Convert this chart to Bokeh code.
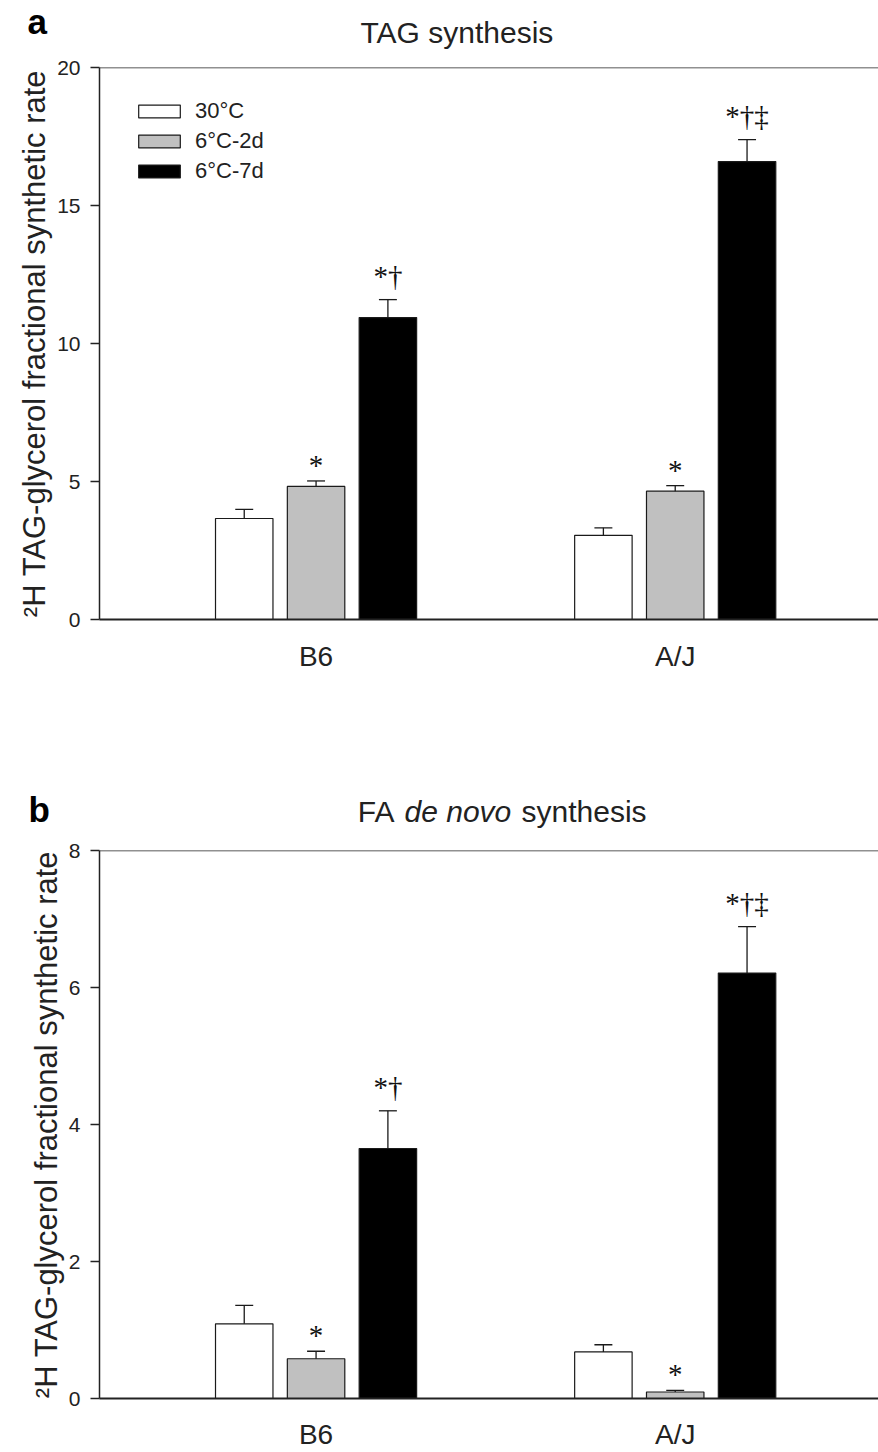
from bokeh.plotting import figure
from bokeh.layouts import column
from bokeh.models import (Range1d, FixedTicker, Span, LabelSet, Legend,
                          LegendItem, ColumnDataSource)
from bokeh.core.properties import value
from bokeh.embed import file_html
from bokeh.resources import INLINE

# ---------------- data ----------------
strains = ["B6", "A/J"]
conditions = ["30°C", "6°C-2d", "6°C-7d"]
colors = ["#ffffff", "#c0c0c0", "#000000"]

tag_means = {"30°C": [3.66, 3.05], "6°C-2d": [4.82, 4.65], "6°C-7d": [10.94, 16.59]}
tag_err = {"30°C": [0.33, 0.27], "6°C-2d": [0.20, 0.20], "6°C-7d": [0.65, 0.80]}
tag_marks = {"30°C": ["", ""], "6°C-2d": ["*", "*"], "6°C-7d": ["*†", "*†‡"]}

fa_means = {"30°C": [1.09, 0.68], "6°C-2d": [0.58, 0.095], "6°C-7d": [3.65, 6.21]}
fa_err = {"30°C": [0.27, 0.105], "6°C-2d": [0.11, 0.025], "6°C-7d": [0.55, 0.68]}
fa_marks = {"30°C": ["", ""], "6°C-2d": ["*", "*"], "6°C-7d": ["*†", "*†‡"]}

tag_ticks = [0, 5, 10, 15, 20]
fa_ticks = [0, 2, 4, 6, 8]

title_a = "TAG synthesis"
title_b = ["FA", "de novo", "synthesis"]
title_b_styles = ["normal", "italic", "normal"]

FONT = "Liberation Sans"
offsets = [-0.2, 0.0, 0.2]
BAR_W = 0.16
CAP = 0.025
X0, X1 = 0.397, 2.566
W = 878


def header(height):
    h = figure(width=W, height=height, x_range=Range1d(0, W),
               y_range=Range1d(0, height), output_backend="svg",
               toolbar_location=None, x_axis_location=None,
               y_axis_location=None, min_border=0)
    try:
        h.frame_align = False
    except Exception:
        pass
    h.grid.visible = False
    h.outline_line_color = None
    return h


def make_panel(means, errs, marks, ticks, ymax, height, top, bottom,
               label_standoff, legend=False):
    p = figure(width=W, height=height, x_range=Range1d(X0, X1),
               y_range=Range1d(0, ymax), output_backend="svg",
               toolbar_location=None, min_border_left=99, min_border_right=0,
               min_border_top=top, min_border_bottom=bottom)
    p.grid.visible = False
    p.outline_line_color = None
    p.background_fill_color = "white"

    items = []
    for ci, cond in enumerate(conditions):
        xs = [i + 1 + offsets[ci] for i in range(len(strains))]
        tops = [m + e for m, e in zip(means[cond], errs[cond])]
        yoff = [16 if len(m) <= 1 else 24 for m in marks[cond]]
        src = ColumnDataSource(dict(x=xs, top=means[cond], up=tops,
                                    xl=[x - CAP for x in xs],
                                    xr=[x + CAP for x in xs],
                                    mark=marks[cond], yoff=yoff))
        r = p.vbar(x="x", top="top", bottom=0, width=BAR_W, source=src,
                   fill_color=colors[ci], line_color="#1a1a1a", line_width=1.2)
        p.segment(x0="x", y0="top", x1="x", y1="up", source=src,
                  line_color="#1a1a1a", line_width=1.3)
        p.segment(x0="xl", y0="up", x1="xr", y1="up", source=src,
                  line_color="#1a1a1a", line_width=1.3)
        ls = LabelSet(x="x", y="up", text="mark", source=src, y_offset="yoff",
                      text_align="center", text_baseline="middle",
                      text_font="DejaVu Sans", text_font_size="29px",
                      text_color="#111111")
        p.add_layout(ls)
        items.append(LegendItem(label=cond, renderers=[r]))

    if legend:
        lg = Legend(items=items, location=(34, 435), padding=0, margin=0,
                    border_line_color=None, background_fill_alpha=0,
                    glyph_width=52, glyph_height=16, label_standoff=10,
                    spacing=4, label_height=24, label_text_font=FONT,
                    label_text_font_size="22px", label_text_color="#222222")
        p.add_layout(lg)

    p.add_layout(Span(location=ymax, dimension="width", line_color="#222222",
                      line_width=1.5))

    p.yaxis.ticker = FixedTicker(ticks=ticks)
    p.yaxis.minor_tick_line_color = None
    p.yaxis.major_tick_out = 9
    p.yaxis.major_tick_in = 0
    p.yaxis.major_label_standoff = 10
    p.yaxis.major_label_text_font = FONT
    p.yaxis.major_label_text_font_size = "21px"
    p.yaxis.major_label_text_color = "#222222"
    p.yaxis.axis_line_width = 1.5
    p.yaxis.axis_line_color = "#222222"
    p.yaxis.major_tick_line_color = "#222222"
    p.yaxis.major_tick_line_width = 1.5
    p.yaxis.axis_label = "²H TAG-glycerol fractional synthetic rate"
    p.yaxis.axis_label_text_font = FONT
    p.yaxis.axis_label_text_font_style = "normal"
    p.yaxis.axis_label_text_font_size = "31px"
    p.yaxis.axis_label_text_color = "#222222"
    p.yaxis.axis_label_standoff = 2

    p.xaxis.ticker = FixedTicker(ticks=[1, 2])
    p.xaxis.major_label_overrides = {1: strains[0], 2: strains[1]}
    p.xaxis.major_tick_line_color = None
    p.xaxis.minor_tick_line_color = None
    p.xaxis.major_label_standoff = label_standoff
    p.xaxis.major_label_text_font = FONT
    p.xaxis.major_label_text_font_size = "28px"
    p.xaxis.major_label_text_color = "#222222"
    p.xaxis.axis_line_width = 2
    p.xaxis.axis_line_color = "#222222"
    return p


# ---- panel a ----
ha = header(52)
ha.text(x=[27], y=[31], text=["a"], text_font=value(FONT), text_font_style="bold",
        text_font_size="35px", text_color="#000000", text_baseline="middle",
        text_align="left")
ha.text(x=[360], y=[20], text=[title_a], text_font=value(FONT),
        text_font_size="30px", text_color="#222222", text_baseline="middle",
        text_align="left")
pa = make_panel(tag_means, tag_err, tag_marks, tag_ticks, 20, 648, 15, 81, 15,
                legend=True)

# ---- panel b ----
hb = header(135)
hb.text(x=[28], y=[26], text=["b"], text_font=value(FONT), text_font_style="bold",
        text_font_size="35px", text_color="#000000", text_baseline="middle",
        text_align="left")
tb_x = [394, 404, 521]
tb_align = ["right", "left", "left"]
for t, s, xx, al in zip(title_b, title_b_styles, tb_x, tb_align):
    hb.text(x=[xx], y=[24], text=[t], text_font=value(FONT), text_font_style=s,
            text_font_size="30px", text_color="#222222",
            text_baseline="middle", text_align=al)
pb = make_panel(fa_means, fa_err, fa_marks, fa_ticks, 8, 617, 15, 49, 14)

layout = column(ha, pa, hb, pb, spacing=0)
open("out.html", "w").write(file_html(layout, INLINE))
